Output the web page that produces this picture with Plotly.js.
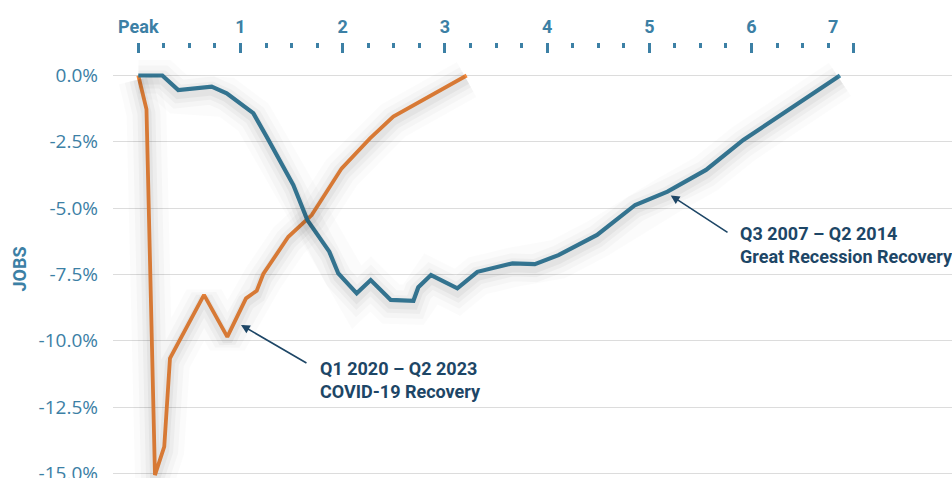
<!DOCTYPE html>
<html><head><meta charset="utf-8">
<script src="https://cdn.plot.ly/plotly-3.0.1.min.js"></script>
<style>html,body{margin:0;padding:0;background:#fff}#chart{width:952px;height:478px}</style>
</head><body><div id="chart"></div>
<script>
// Years after the employment peak (x) and job change vs. peak, % (y)
const covidYears = [0, 0.08, 0.163, 0.254, 0.31, 0.643, 0.871, 1.054, 1.159, 1.223, 1.468, 1.697, 1.99, 2.267, 2.495, 3.213];
const covidJobs  = [0, -1.27, -15.06, -13.99, -10.66, -8.27, -9.85, -8.40, -8.11, -7.48, -6.08, -5.26, -3.50, -2.37, -1.55, 0];

const grYears = [0, 0.235, 0.391, 0.718, 0.865, 1.125, 1.256, 1.517, 1.654, 1.869, 1.957, 2.137, 2.274, 2.47, 2.692, 2.74, 2.864, 3.122, 3.318, 3.662, 3.88, 4.111, 4.489, 4.862, 5.178, 5.555, 5.92, 6.866];
const grJobs  = [0, 0, -0.55, -0.42, -0.67, -1.42, -2.31, -4.13, -5.45, -6.64, -7.46, -8.21, -7.71, -8.46, -8.49, -7.98, -7.52, -8.02, -7.40, -7.08, -7.11, -6.77, -6.01, -4.88, -4.38, -3.56, -2.43, 0];

const yTickVals = [0, -2.5, -5, -7.5, -10, -12.5, -15];
const yTickText = ['0.0%', '-2.5%', '-5.0%', '-7.5%', '-10.0%', '-12.5%', '-15.0%'];
const xLabelVals = [0, 1, 2, 3, 4, 5, 6, 6.8];
const xLabelText = ['Peak', '1', '2', '3', '4', '5', '6', '7'];
const xMajorTicks = [0, 1, 2, 3, 4, 5, 6, 7];

const covidLabel = 'Q1 2020 – Q2 2023<br>COVID-19 Recovery';
const grLabel = 'Q3 2007 – Q2 2014<br>Great Recession Recovery';

const xMinorTicks = [];
for (let i = 1; i < 28; i++) { if (i % 4 !== 0) xMinorTicks.push(i / 4); }

const BLUE = '#3b82a1';
const ORANGE = '#f28a3d';
const TEAL = '#3c80a5';
const NAVY = '#1d4666';
const XR = [-0.2476, 7.962];
const YR = [-15.17, 0.584];

const traces = [];
[[covidYears, covidJobs], [grYears, grJobs]].forEach(([xs, ys]) => {
  [[40, 'rgba(0,0,0,0.015)'], [28, 'rgba(0,0,0,0.022)'], [18, 'rgba(0,0,0,0.03)'], [10, 'rgba(0,0,0,0.04)']].forEach(([w, c]) => {
    traces.push({x: xs, y: ys, xaxis: 'x2', yaxis: 'y2', mode: 'lines',
      line: {color: c, width: w, shape: 'linear'}, hoverinfo: 'skip', showlegend: false});
  });
});
traces.push({x: covidYears, y: covidJobs, mode: 'lines', name: 'COVID-19 Recovery',
  line: {color: ORANGE, width: 3.8}, showlegend: false});
traces.push({x: grYears, y: grJobs, mode: 'lines', name: 'Great Recession Recovery',
  line: {color: BLUE, width: 4.2}, showlegend: false});

const layout = {
  width: 952, height: 478,
  margin: {l: 113, r: 0, t: 0, b: 0},
  paper_bgcolor: '#ffffff', plot_bgcolor: '#ffffff',
  showlegend: false,
  font: {family: 'Open Sans, sans-serif', color: TEAL},
  xaxis: {
    range: XR, side: 'top', anchor: 'free', position: 0.923,
    tickmode: 'array', tickvals: xLabelVals, ticktext: xLabelText,
    ticks: '', showgrid: false, zeroline: false, showline: false,
    tickfont: {family: 'Roboto, sans-serif', size: 18, color: TEAL, weight: 'bold'}
  },
  xaxis2: {
    range: XR, overlaying: 'x', side: 'top', anchor: 'free', position: 0.912,
    tickmode: 'array', tickvals: xMajorTicks, showticklabels: false,
    ticks: 'inside', ticklen: 10, tickwidth: 3, tickcolor: TEAL,
    minor: {tickmode: 'array', tickvals: xMinorTicks, ticks: 'inside', ticklen: 5, tickwidth: 3, tickcolor: TEAL, showgrid: false},
    showgrid: false, zeroline: false, showline: false
  },
  yaxis: {
    range: YR, domain: [0, 0.8745],
    tickmode: 'array', tickvals: yTickVals, ticktext: yTickText,
    ticks: '', ticklabelstandoff: 14, ticklabeloverflow: 'allow',
    showgrid: true, gridcolor: '#dcdcdc', gridwidth: 1, zeroline: false, showline: false,
    tickfont: {family: 'Open Sans, sans-serif', size: 19, color: TEAL},
    title: {text: 'JOBS', standoff: 7, font: {family: 'Roboto, sans-serif', size: 18, color: TEAL, weight: 'bold'}}
  },
  yaxis2: {
    range: [YR[0] + 0.15, YR[1] + 0.15], domain: [0, 0.8745], overlaying: 'y', visible: false
  },
  annotations: [
    {x: 1.005, y: -9.40, ax: 1.66, ay: -10.87, xref: 'x', yref: 'y', axref: 'x', ayref: 'y',
     text: '', showarrow: true, arrowhead: 2, arrowsize: 1.1, arrowwidth: 1.6, arrowcolor: NAVY},
    {x: 5.21, y: -4.52, ax: 5.78, ay: -5.95, xref: 'x', yref: 'y', axref: 'x', ayref: 'y',
     text: '', showarrow: true, arrowhead: 2, arrowsize: 1.1, arrowwidth: 1.6, arrowcolor: NAVY},
    {x: 1.76, y: -11.48, xref: 'x', yref: 'y', xanchor: 'left', yanchor: 'middle', align: 'left',
     showarrow: false, text: covidLabel,
     font: {family: 'Roboto, sans-serif', size: 18, color: NAVY, weight: 'bold'}},
    {x: 5.87, y: -6.39, xref: 'x', yref: 'y', xanchor: 'left', yanchor: 'middle', align: 'left',
     showarrow: false, text: grLabel,
     font: {family: 'Roboto, sans-serif', size: 18, color: NAVY, weight: 'bold'}}
  ]
};

Plotly.newPlot('chart', traces, layout, {displayModeBar: false, staticPlot: true});
</script>
</body></html>
